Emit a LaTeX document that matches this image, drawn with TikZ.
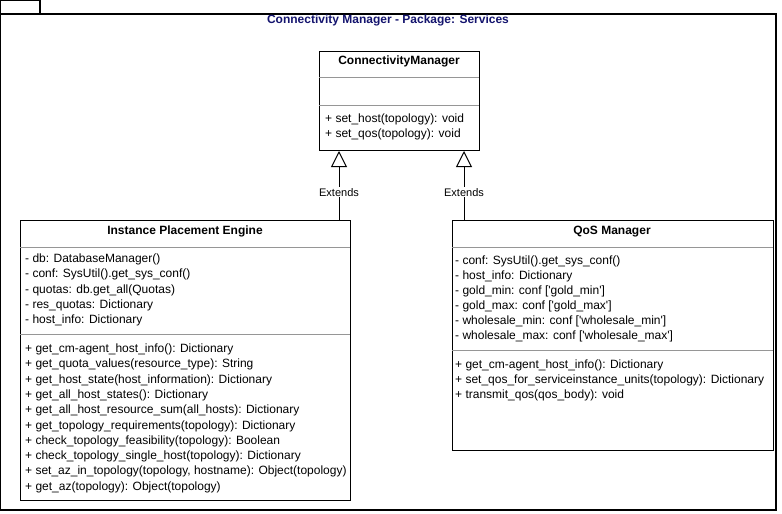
\documentclass[tikz,border=0pt]{standalone}
\usepackage{fontspec}
\setmainfont{Liberation Sans}
\usetikzlibrary{arrows.meta}
\definecolor{pkgblue}{RGB}{20,20,110}
\definecolor{sepgray}{RGB}{150,150,150}

\begin{document}
\begin{tikzpicture}[x=1pt,y=-1pt,
  every node/.style={font=\fontsize{12}{14}\selectfont},
  classbox/.style={draw,line width=1pt,inner sep=0pt,anchor=north west},
  classname/.style={font=\fontsize{12}{14}\selectfont\bfseries},
  member/.style={anchor=base west,inner sep=0pt},
  sep/.style={draw=sepgray,line width=1pt},
  extends/.style={line width=1pt,-{Triangle[open,length=16pt,width=16pt]}},
  extlabel/.style={fill=white,inner sep=1pt,font=\fontsize{11}{13}\selectfont}]
\useasboundingbox (0,0) rectangle (782,514);
\draw[line width=1.3pt] (0.7,14) rectangle (776,510);
\draw[line width=1.3pt] (0.7,0.7) rectangle (40,14);
\node[classname,text=pkgblue] (pkg) at (388,20) {Connectivity Manager - Package: Services};

\node[classbox,minimum width=160pt,minimum height=99pt] (cm) at (319,51) {};
\node[classname] (cmname) at (399,61.5) {ConnectivityManager};
\draw[sep] (319,77) -- (479,77);
\draw[sep] (319,105.5) -- (479,105.5);
\foreach \t [count=\i from 0] in {{+ set\_host(topology): void},{+ set\_qos(topology): void}}
  \node[member] (cmop\i) at (325,122+15*\i) {\t};

\node[classbox,minimum width=330pt,minimum height=280pt] (ipe) at (20,220) {};
\node[classname] (ipename) at (185,231.5) {Instance Placement Engine};
\draw[sep] (20,247) -- (350,247);
\draw[sep] (20,334) -- (350,334);
\foreach \t [count=\i from 0] in {{- db: DatabaseManager()},{- conf: SysUtil().get\_sys\_conf()},
  {- quotas: db.get\_all(Quotas)},{- res\_quotas: Dictionary},{- host\_info: Dictionary}}
  \node[member] (ipeattr\i) at (25,262.5+15.3*\i) {\t};
\foreach \t [count=\i from 0] in {{+ get\_cm-agent\_host\_info(): Dictionary},
  {+ get\_quota\_values(resource\_type): String},
  {+ get\_host\_state(host\_information): Dictionary},
  {+ get\_all\_host\_states(): Dictionary},
  {+ get\_all\_host\_resource\_sum(all\_hosts): Dictionary},
  {+ get\_topology\_requirements(topology): Dictionary},
  {+ check\_topology\_feasibility(topology): Boolean},
  {+ check\_topology\_single\_host(topology): Dictionary},
  {+ set\_az\_in\_topology(topology, hostname): Object(topology)},
  {+ get\_az(topology): Object(topology)}}
  \node[member] (ipeop\i) at (25,352.5+15.3*\i) {\t};

\node[classbox,minimum width=321pt,minimum height=230pt] (qos) at (452,220) {};
\node[classname] (qosname) at (612,231.5) {QoS Manager};
\draw[sep] (452,247) -- (773,247);
\draw[sep] (452,350) -- (773,350);
\foreach \t [count=\i from 0] in {{- conf: SysUtil().get\_sys\_conf()},{- host\_info: Dictionary},
  {- gold\_min: conf [\textquotesingle gold\_min\textquotesingle]},
  {- gold\_max: conf [\textquotesingle gold\_max\textquotesingle]},
  {- wholesale\_min: conf [\textquotesingle wholesale\_min\textquotesingle]},
  {- wholesale\_max: conf [\textquotesingle wholesale\_max\textquotesingle]}}
  \node[member] (qosattr\i) at (455,264.5+15*\i) {\t};
\foreach \t [count=\i from 0] in {{+ get\_cm-agent\_host\_info(): Dictionary},
  {+ set\_qos\_for\_serviceinstance\_units(topology): Dictionary},
  {+ transmit\_qos(qos\_body): void}}
  \node[member] (qosop\i) at (455,368.5+15*\i) {\t};

\coordinate (e1) at (339,0);
\coordinate (e2) at (464,0);
\draw[extends] (ipe.north -| e1) -- node[extlabel,pos=0.4] (ext1) {Extends} (cm.south -| e1);
\draw[extends] (qos.north -| e2) -- node[extlabel,pos=0.4] (ext2) {Extends} (cm.south -| e2);
\end{tikzpicture}
\end{document}
